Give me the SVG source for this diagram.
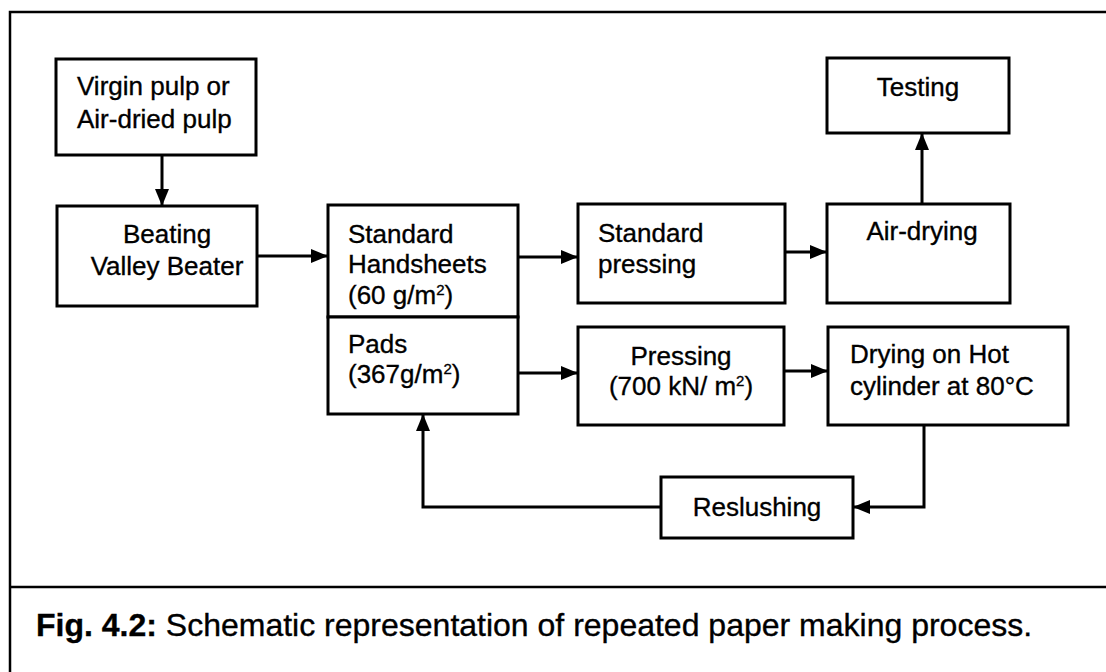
<svg xmlns="http://www.w3.org/2000/svg" width="1106" height="672" viewBox="0 0 1106 672">
<style>
.box{fill:#fff;stroke:#000;stroke-width:3}
.t{font-family:"Liberation Sans",Arial,sans-serif;font-size:26px;fill:#000;stroke:#000;stroke-width:0.35}
.c{text-anchor:middle}
.sup{font-size:15px}
.conn{fill:none;stroke:#000;stroke-width:3}
.frame{fill:none;stroke:#000;stroke-width:2.5}
.cap{font-family:"Liberation Sans",Arial,sans-serif;font-size:32px;fill:#000;stroke:#000;stroke-width:0.35}
</style>
<defs>
<marker id="ah" markerUnits="userSpaceOnUse" markerWidth="17" markerHeight="14" refX="16" refY="7" orient="auto">
<path d="M0,0 L17,7 L0,14 Z" fill="#000"/>
</marker>
</defs>
<rect width="1106" height="672" fill="#fff"/>
<g id="frame">
<path class="frame" d="M10,672 V12 H1106 M10,587 H1106"/>
</g>
<g id="connectors">
<path class="conn" d="M162,155 V205" marker-end="url(#ah)"/>
<path class="conn" d="M257,256 H327" marker-end="url(#ah)"/>
<path class="conn" d="M518,257 H577" marker-end="url(#ah)"/>
<path class="conn" d="M785,252 H826" marker-end="url(#ah)"/>
<path class="conn" d="M922,204 V134" marker-end="url(#ah)"/>
<path class="conn" d="M518,373 H577" marker-end="url(#ah)"/>
<path class="conn" d="M784,371 H827" marker-end="url(#ah)"/>
<path class="conn" d="M924,425 V507 H854" marker-end="url(#ah)"/>
<path class="conn" d="M661,507 H423 V415" marker-end="url(#ah)"/>
</g>
<g id="virgin">
<rect class="box" x="56" y="59" width="200" height="96"/>
<text class="t" x="77" y="95">Virgin pulp or</text>
<text class="t" x="77" y="128">Air-dried pulp</text>
</g>
<g id="beating">
<rect class="box" x="57" y="206" width="200" height="100"/>
<text class="t c" x="167" y="243">Beating</text>
<text class="t c" x="167" y="275">Valley Beater</text>
</g>
<g id="handsheets">
<rect class="box" x="328" y="205" width="190" height="112"/>
<text class="t" x="348" y="243">Standard</text>
<text class="t" x="348" y="273">Handsheets</text>
<text class="t" x="348" y="304">(60 g/m<tspan class="sup" dy="-9">2</tspan><tspan dy="9">)</tspan></text>
</g>
<g id="pads">
<rect class="box" x="328" y="317" width="190" height="97"/>
<text class="t" x="348" y="353">Pads</text>
<text class="t" x="348" y="383">(367g/m<tspan class="sup" dy="-9">2</tspan><tspan dy="9">)</tspan></text>
</g>
<g id="stdpressing">
<rect class="box" x="578" y="204" width="207" height="99"/>
<text class="t" x="598" y="242">Standard</text>
<text class="t" x="598" y="273">pressing</text>
</g>
<g id="airdrying">
<rect class="box" x="827" y="204" width="183" height="99"/>
<text class="t c" x="922" y="240">Air-drying</text>
</g>
<g id="testing">
<rect class="box" x="827" y="58" width="182" height="75"/>
<text class="t c" x="918" y="96">Testing</text>
</g>
<g id="pressing">
<rect class="box" x="578" y="327" width="206" height="98"/>
<text class="t c" x="681" y="365">Pressing</text>
<text class="t c" x="681" y="395">(700 kN/ m<tspan class="sup" dy="-9">2</tspan><tspan dy="9">)</tspan></text>
</g>
<g id="drying">
<rect class="box" x="828" y="327" width="240" height="98"/>
<text class="t" x="850" y="363">Drying on Hot</text>
<text class="t" x="850" y="395">cylinder at 80°C</text>
</g>
<g id="reslushing">
<rect class="box" x="661" y="477" width="192" height="61"/>
<text class="t c" x="757" y="516">Reslushing</text>
</g>
<g id="caption">
<text class="cap" x="36" y="636"><tspan font-weight="bold">Fig. 4.2:</tspan> Schematic representation of repeated paper making process.</text>
</g>
</svg>
